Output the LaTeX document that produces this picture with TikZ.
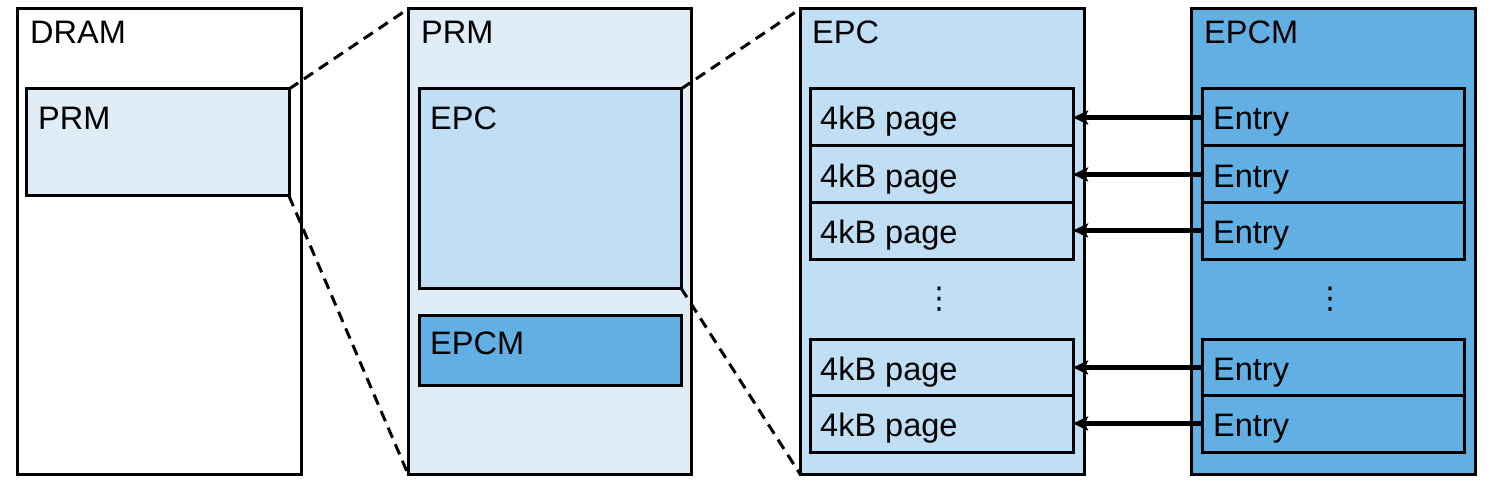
\documentclass[tikz,border=0pt]{standalone}
\usepackage{fontspec}
\setmainfont{Liberation Sans}
\newfontfamily\dejavu{DejaVu Sans}
\usetikzlibrary{arrows.meta}
\definecolor{prmfill}{HTML}{DFEDF9}
\definecolor{epcfill}{HTML}{C1DFF4}
\definecolor{epcmfill}{HTML}{62AFE3}
\begin{document}
\begin{tikzpicture}[x=1pt,y=-1pt,
  box/.style={draw=black, line width=3pt, rectangle, inner sep=0pt, outer sep=0pt, anchor=north west},
  lbl/.style={anchor=base west, inner sep=0pt, font=\fontsize{32.5}{38}\selectfont},
  dotsnode/.style={inner sep=0pt, font=\dejavu\fontsize{30}{36}\selectfont},
  zoomline/.style={draw=black, line width=3pt, dash pattern=on 11pt off 7pt},
  ptr/.style={line width=4.5pt, -{Stealth[length=15pt,width=14pt,inset=3pt]}}]
\useasboundingbox (0,0) rectangle (1492,484);

% DRAM column
\node[box, fill=white, minimum width=284pt, minimum height=465pt] (dram) at (17,9) {};
\node[lbl] (dramlbl) at (30,44) {DRAM};
\node[box, fill=prmfill, minimum width=263pt, minimum height=107pt] (prmsmall) at (26,89) {};
\node[lbl] (prmsmalllbl) at (38,130) {PRM};

% PRM column
\node[box, fill=prmfill, minimum width=283pt, minimum height=465pt] (prm) at (408,9) {};
\node[lbl] (prmlbl) at (421,44) {PRM};
\node[box, fill=epcfill, minimum width=262pt, minimum height=199pt] (epcsmall) at (419,89) {};
\node[lbl] (epcsmalllbl) at (430,130) {EPC};
\node[box, fill=epcmfill, minimum width=262pt, minimum height=70pt] (epcmsmall) at (419,315) {};
\node[lbl] (epcmsmalllbl) at (430,354) {EPCM};

% EPC column
\node[box, fill=epcfill, minimum width=284pt, minimum height=465pt] (epc) at (800,9) {};
\node[lbl] (epclbl) at (812,44) {EPC};
\foreach \i/\t in {1/89, 2/146, 3/202, 4/339, 5/395} {
  \node[box, fill=epcfill, minimum width=263pt, minimum height=57pt] (page\i) at (810,\t) {};
  \node[lbl] (page\i lbl) at (820,\t+41) {4kB page};
}
\node[dotsnode] (epcdots) at (939,299) {⋮};

% EPCM column
\node[box, fill=epcmfill, minimum width=284pt, minimum height=465pt] (epcm) at (1191,9) {};
\node[lbl] (epcmlbl) at (1204,44) {EPCM};
\foreach \i/\t in {1/89, 2/146, 3/202, 4/339, 5/395} {
  \node[box, fill=epcmfill, minimum width=262pt, minimum height=57pt] (entry\i) at (1202,\t) {};
  \node[lbl] (entry\i lbl) at (1213,\t+41) {Entry};
}
\node[dotsnode] (epcmdots) at (1330,299) {⋮};

% zoom lines
\draw[zoomline] (prmsmall.north east) -- (prm.north west);
\draw[zoomline] (prmsmall.south east) -- (prm.south west);
\draw[zoomline] (epcsmall.north east) -- (epc.north west);
\draw[zoomline] (epcsmall.south east) -- (epc.south west);

% pointers
\foreach \i in {1,...,5} {
  \draw[ptr] (entry\i.west) -- (page\i.east);
}
\end{tikzpicture}
\end{document}
